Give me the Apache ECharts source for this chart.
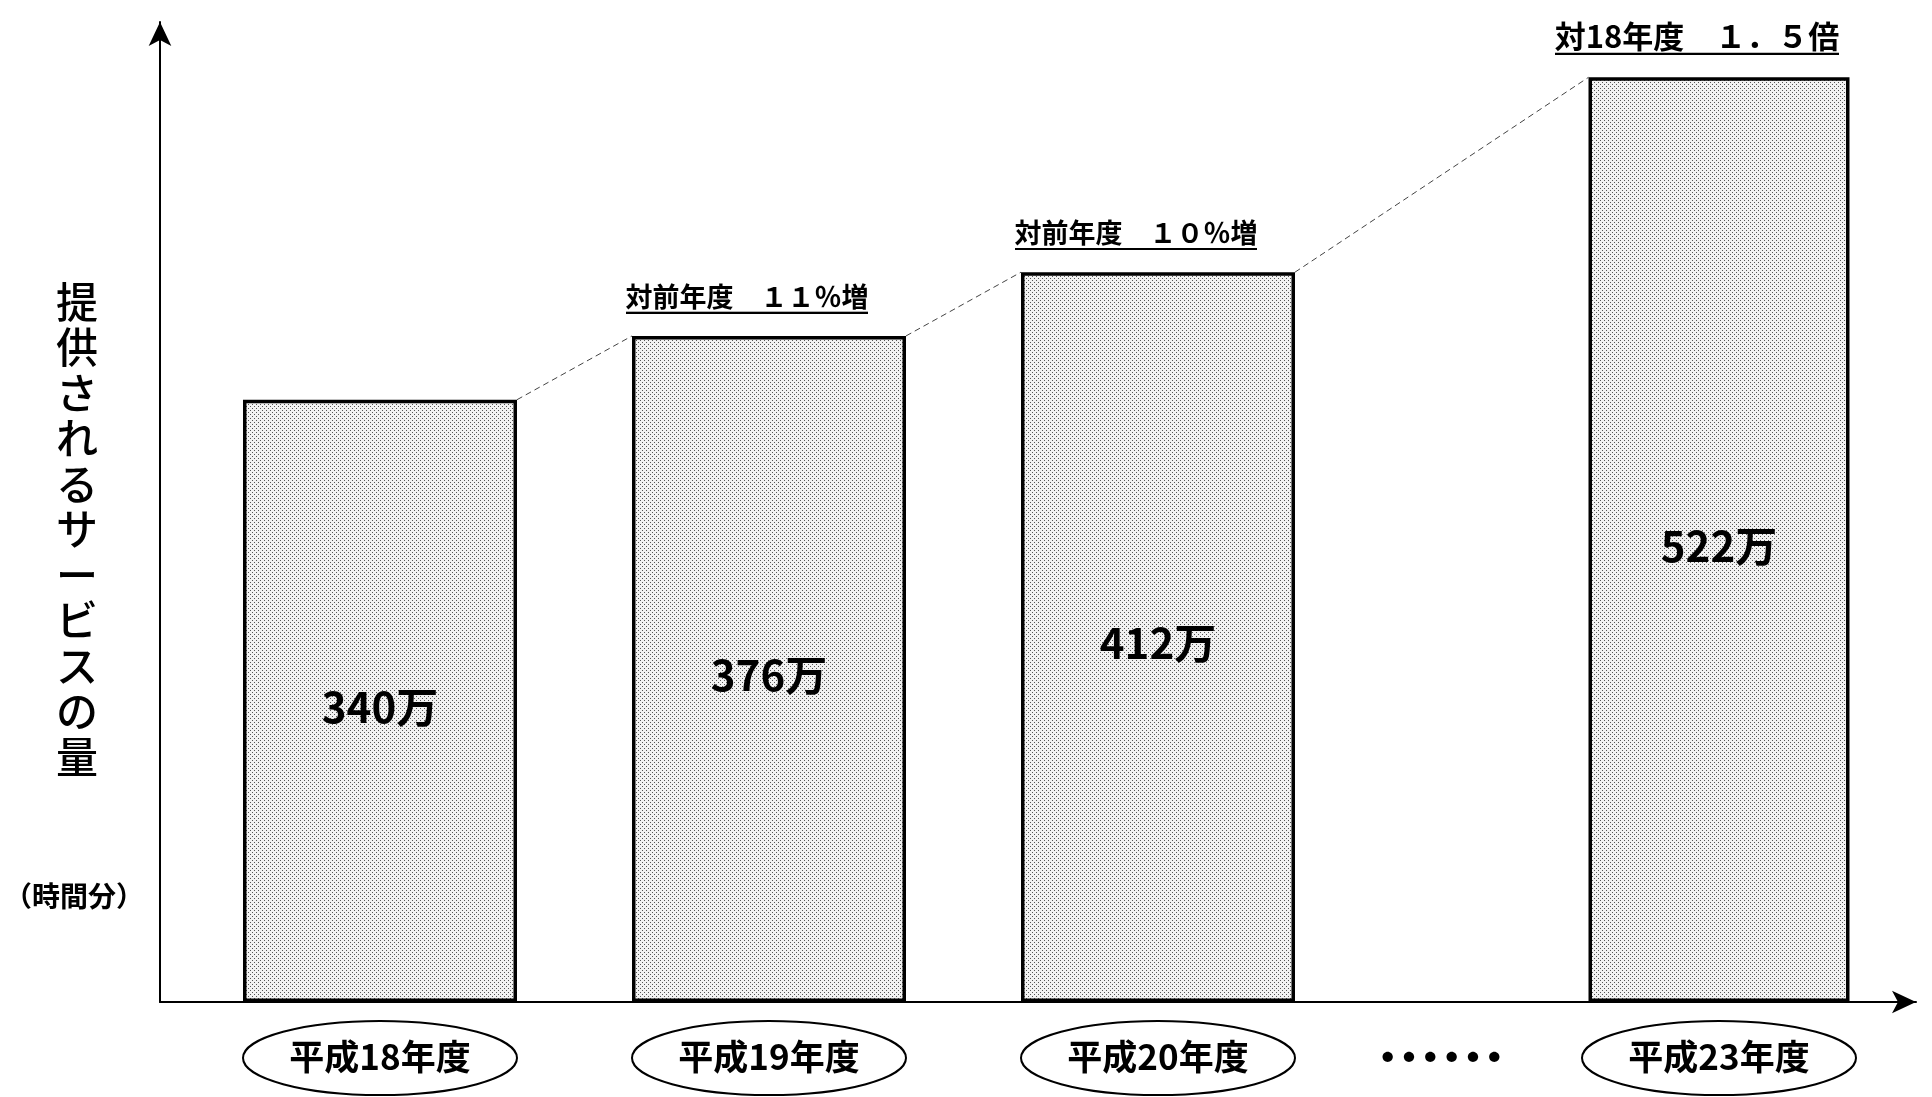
<!DOCTYPE html>
<html><head><meta charset="utf-8">
<script src="https://cdn.jsdelivr.net/npm/echarts@6/dist/echarts.min.js"></script>
<style>html,body{margin:0;padding:0;background:#fff}#c{width:1932px;height:1097px}</style>
</head><body><div id="c"></div>
<script>
const categories = ['平成18年度', '平成19年度', '平成20年度', '……', '平成23年度'];
const values = [340, 376, 412, null, 522];
const annotations = ['', '対前年度　１１％増', '対前年度　１０％増', '', '対18年度　１．５倍'];
const yAxisTitle = '提供されるサービスの量';
const unitLabel = '（時間分）';
const yMax = 560;

function mk(w, h, draw) { const c = document.createElement('canvas'); c.width = w; c.height = h; draw(c.getContext('2d'), w, h); return c; }
const dots = mk(4, 4, g => { g.fillStyle = '#f2f2f2'; g.fillRect(0, 0, 4, 4); g.fillStyle = '#555'; g.fillRect(0, 0, 1, 1); g.fillRect(2, 2, 1, 1); });
const underline = mk(8, 40, g => { g.fillStyle = '#000'; g.fillRect(0, 37, 8, 3); });

const FONT = 'Noto Sans CJK JP';
const split = 3;
const cats1 = categories.slice(0, split), cats2 = categories.slice(split);
const vals1 = values.slice(0, split), vals2 = values.slice(split);
const ann1 = annotations.slice(0, split), ann2 = annotations.slice(split);

function catAxis(gi, cats) {
  return {
    type: 'category', gridIndex: gi, data: cats,
    axisLine: { show: false }, axisTick: { show: false }, splitLine: { show: false },
    axisLabel: {
      margin: 21, interval: 0,
      formatter: v => v === '……' ? '{d|' + v + '}' : '{e|' + v + '}',
      rich: {
        e: { height: 68, lineHeight: 68, align: 'center', verticalAlign: 'middle', fontSize: 35, color: '#000', fontFamily: FONT, fontWeight: 'bold' },
        d: { fontSize: 64, fontWeight: 'bold', height: 68, lineHeight: 68, color: '#000', fontFamily: FONT }
      }
    }
  };
}
function valAxis(gi) {
  return { type: 'value', gridIndex: gi, min: 0, max: yMax, show: false, splitLine: { show: false } };
}
function barSeries(xi, vals, bw) {
  return {
    type: 'bar', xAxisIndex: xi, yAxisIndex: xi, data: vals, barWidth: bw, silent: true, z: 3,
    itemStyle: { color: { image: dots, repeat: 'repeat' }, borderColor: '#000', borderWidth: 3.5 },
    label: { show: true, position: 'inside', offset: [0, 6], formatter: p => p.value + '万', fontSize: 42, color: '#000', fontFamily: FONT, fontWeight: 'bold' }
  };
}
function annSeries(xi, vals, anns, bw, offsetIdx) {
  return {
    type: 'bar', xAxisIndex: xi, yAxisIndex: xi, data: vals, barWidth: bw, barGap: '-100%', silent: true, z: 4,
    itemStyle: { color: 'rgba(0,0,0,0)' },
    label: {
      show: true, position: 'top', distance: 22, offset: [-22, 0],
      formatter: p => {
        const t = anns[p.dataIndex];
        if (!t) return '';
        return (offsetIdx + p.dataIndex === categories.length - 1 ? '{b|' : '{u|') + t + '}';
      },
      rich: {
        u: { fontSize: 27, color: '#000', fontFamily: FONT, fontWeight: 'bold', padding: [0, 0, 4, 0], backgroundColor: { image: underline } },
        b: { fontSize: 31, color: '#000', fontFamily: FONT, fontWeight: 'bold', padding: [0, 0, 4, 0], backgroundColor: { image: underline } }
      }
    }
  };
}

const chart = echarts.init(document.getElementById('c'), null, { renderer: 'canvas' });
const axisLineStyle = { show: true, symbol: ['none', 'arrow'], symbolSize: [17, 24], lineStyle: { color: '#000', width: 2 } };
chart.setOption({
  animation: false,
  backgroundColor: '#fff',
  grid: [
    { left: 160, right: 16, top: 22, bottom: 95 },
    { left: 185.5, width: 1167, top: 10, bottom: 95 },
    { left: 1302, width: 556, top: 10, bottom: 95 }
  ],
  xAxis: [
    { type: 'value', gridIndex: 0, min: 0, max: 1, axisLine: axisLineStyle, axisLabel: { show: false }, axisTick: { show: false }, splitLine: { show: false } },
    catAxis(1, cats1),
    catAxis(2, cats2)
  ],
  yAxis: [
    { type: 'value', gridIndex: 0, min: 0, max: 1, axisLine: axisLineStyle, axisLabel: { show: false }, axisTick: { show: false }, splitLine: { show: false } },
    valAxis(1),
    valAxis(2)
  ],
  series: [
    barSeries(1, vals1, 274),
    annSeries(1, vals1, ann1, 274, 0),
    barSeries(2, vals2, 261),
    annSeries(2, vals2, ann2, 261, split)
  ],
  graphic: [
    { id: 'ytitle', type: 'text', left: 56, top: 279, style: { text: yAxisTitle.split('').join('\n'), font: '500 42px "' + FONT + '"', lineHeight: 45.5, fill: '#000', align: 'center' } },
    { id: 'unit', type: 'text', left: 4, top: 882, style: { text: unitLabel, font: 'bold 28px "' + FONT + '"', fill: '#000' } }
  ]
});

// connectors and category ellipses placed through the chart's own scales
const bars = [];
const extra = [];
categories.forEach((c, i) => {
  const inFirst = i < split;
  const sIdx = inFirst ? 0 : 2;
  const base = chart.convertToPixel({ seriesIndex: sIdx }, [c, 0]);
  if (c !== '……') {
    extra.push({ id: 'ell' + i, type: 'ellipse', silent: true, z: 1, shape: { cx: base[0], cy: base[1] + 56, rx: 137, ry: 37 }, style: { fill: 'none', stroke: '#000', lineWidth: 2 } });
  }
  if (values[i] == null) return;
  const hw = (inFirst ? 274 : 261) / 2;
  const p = chart.convertToPixel({ seriesIndex: sIdx }, [c, values[i]]);
  bars.push({ x: p[0], y: p[1], hw });
});
for (let i = 0; i < bars.length - 1; i++) {
  const a = bars[i], b = bars[i + 1];
  extra.push({ id: 'conn' + i, type: 'line', silent: true, z: 5, shape: { x1: a.x + a.hw, y1: a.y, x2: b.x - b.hw, y2: b.y }, style: { stroke: '#444', lineWidth: 1, lineDash: [6, 4] } });
}
chart.setOption({ graphic: extra });
</script></body></html>
